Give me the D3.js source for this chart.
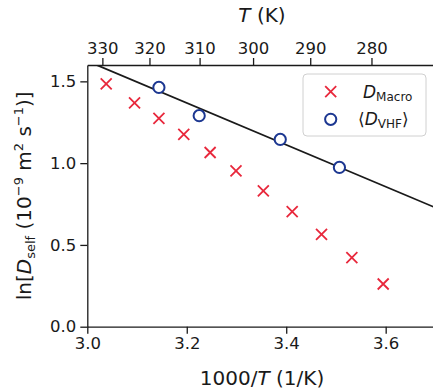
<!DOCTYPE html>
<html>
<head>
<meta charset="utf-8">
<script src="https://cdn.jsdelivr.net/npm/d3@7"></script>
<style>
  body { margin: 0; background: #fff; }
  svg { display: block; font-family: "DejaVu Sans", sans-serif; }
</style>
</head>
<body>
<svg id="chart" width="433" height="392"></svg>
<script>
// 1000/T values and ln(D)
const macroX = [3.038, 3.095, 3.144, 3.194, 3.247, 3.299, 3.354, 3.412, 3.471, 3.532, 3.595];
const macroY = [1.484, 1.369, 1.274, 1.176, 1.065, 0.952, 0.831, 0.703, 0.565, 0.422, 0.261];
const vhfX = [3.144, 3.225, 3.388, 3.507];
const vhfY = [1.463, 1.290, 1.145, 0.974];
// fitted line (two ends)
const fitX = [3.0, 3.7];
const fitY = [1.624, 0.728];
const xTicks = [3.0, 3.2, 3.4, 3.6];
const yTicks = [0.0, 0.5, 1.0, 1.5];
const tTicks = [330, 320, 310, 300, 290, 280];

const red = "#e8283c";
const blue = "#1c3791";
const ink = "#1a1a1a";

const svg = d3.select("#chart");
const mLeft = 87.3, mTop = 65, mBottom = 326.7;

const x = d3.scaleLinear().domain([3.0, 3.7]).range([mLeft, mLeft + 0.7 * 497.3]);
const y = d3.scaleLinear().domain([0, 1.6]).range([mBottom, mTop]);

svg.append("defs").append("clipPath").attr("id", "clip")
  .append("rect").attr("x", mLeft).attr("y", mTop)
  .attr("width", x(3.7) - mLeft).attr("height", mBottom - mTop);

// axes
const styleAxis = g => {
  g.select(".domain").attr("stroke", ink).attr("stroke-width", 1.3);
  g.selectAll(".tick line").attr("stroke", ink).attr("stroke-width", 1.3);
  g.selectAll(".tick text").attr("fill", ink).attr("font-size", 16.5)
    .attr("font-family", "DejaVu Sans");
};

svg.append("g").attr("transform", `translate(0,${mBottom})`)
  .call(d3.axisBottom(x).tickValues(xTicks).tickFormat(d3.format(".1f"))
    .tickSize(7).tickPadding(4).tickSizeOuter(0))
  .call(styleAxis);

svg.append("g").attr("transform", `translate(${mLeft},0)`)
  .call(d3.axisLeft(y).tickValues(yTicks).tickFormat(d3.format(".1f"))
    .tickSize(7).tickPadding(4).tickSizeOuter(0))
  .call(styleAxis);

svg.append("g").attr("transform", `translate(0,${mTop})`)
  .call(d3.axisTop(x).tickValues(tTicks.map(t => 1000 / t)).tickFormat((d, i) => tTicks[i])
    .tickSize(7).tickPadding(4).tickSizeOuter(0))
  .call(styleAxis);

// axis labels
svg.append("text").attr("x", 262).attr("y", 385).attr("text-anchor", "middle")
  .attr("font-size", 20).attr("fill", ink)
  .html('1000/<tspan font-style="italic">T</tspan> (1/K)');

svg.append("text").attr("x", 262).attr("y", 22).attr("text-anchor", "middle")
  .attr("font-size", 20).attr("fill", ink)
  .html('<tspan font-style="italic">T</tspan> (K)');

svg.append("text").attr("transform", `translate(31,${(mTop + mBottom) / 2}) rotate(-90)`)
  .attr("text-anchor", "middle").attr("font-size", 20).attr("fill", ink)
  .html('ln[<tspan font-style="italic">D</tspan><tspan font-size="13" dy="4">self</tspan>' +
        '<tspan dy="-4"> (10</tspan><tspan font-size="13" dy="-8">−9</tspan>' +
        '<tspan dy="8"> m</tspan><tspan font-size="13" dy="-8">2</tspan>' +
        '<tspan dy="8"> s</tspan><tspan font-size="13" dy="-8">−1</tspan><tspan dy="8">)]</tspan>');

// fit line
const plot = svg.append("g").attr("clip-path", "url(#clip)");
plot.append("path")
  .datum(fitX.map((d, i) => [d, fitY[i]]))
  .attr("d", d3.line().x(d => x(d[0])).y(d => y(d[1])))
  .attr("stroke", ink).attr("stroke-width", 1.8).attr("fill", "none");

// crosses
const cross = (g, cx, cy, s) => {
  g.append("path")
    .attr("d", `M${cx - s},${cy - s}L${cx + s},${cy + s}M${cx - s},${cy + s}L${cx + s},${cy - s}`)
    .attr("stroke", red).attr("stroke-width", 1.8).attr("fill", "none");
};
macroX.forEach((d, i) => cross(svg, x(d), y(macroY[i]), 5.5));

// circles
svg.selectAll(".vhf").data(vhfX).join("circle").attr("class", "vhf")
  .attr("cx", d => x(d)).attr("cy", (d, i) => y(vhfY[i])).attr("r", 5.6)
  .attr("fill", "white").attr("stroke", blue).attr("stroke-width", 2);

// legend
const lg = svg.append("g");
lg.append("rect").attr("x", 303).attr("y", 74).attr("width", 123).attr("height", 62)
  .attr("rx", 4).attr("fill", "white").attr("fill-opacity", 0.8)
  .attr("stroke", "#d0d0d0").attr("stroke-width", 1);
cross(lg, 330.7, 91.7, 5.5);
lg.append("circle").attr("cx", 330.7).attr("cy", 119.3).attr("r", 5.6)
  .attr("fill", "white").attr("stroke", blue).attr("stroke-width", 2);
lg.append("text").attr("x", 363).attr("y", 98).attr("font-size", 17).attr("fill", ink)
  .html('<tspan font-style="italic">D</tspan><tspan font-size="12" dy="3">Macro</tspan>');
lg.append("text").attr("x", 358).attr("y", 125).attr("font-size", 17).attr("fill", ink)
  .html('⟨<tspan font-style="italic">D</tspan><tspan font-size="12" dy="3">VHF</tspan><tspan dy="-3">⟩</tspan>');
</script>
</body>
</html>
